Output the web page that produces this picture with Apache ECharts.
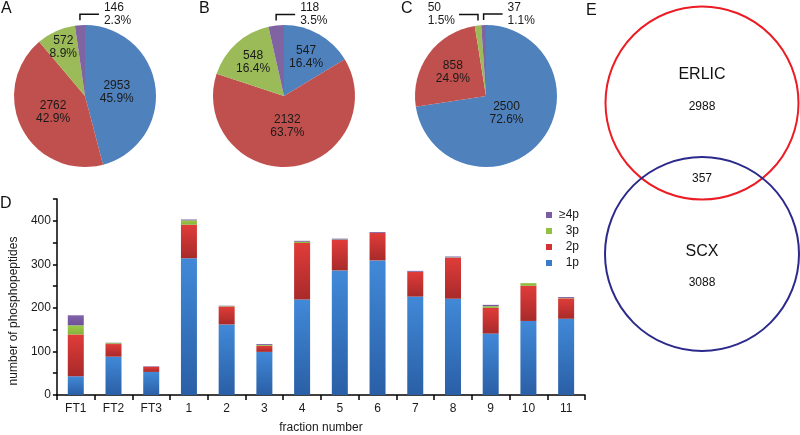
<!DOCTYPE html>
<html><head><meta charset="utf-8">
<script src="https://cdn.jsdelivr.net/npm/echarts@6/dist/echarts.min.js"></script>
<style>html,body{margin:0;padding:0;background:#fff}#c{width:800px;height:435px}</style>
</head><body><div id="c"></div>
<script>
// ---- data ----
const pieLabels = ['1p', '2p', '3p', '≥4p'];
const pieA = [2953, 2762, 572, 146];
const pieB = [547, 2132, 548, 118];
const pieC = [2500, 858, 50, 37];

const fractions = ['FT1', 'FT2', 'FT3', '1', '2', '3', '4', '5', '6', '7', '8', '9', '10', '11'];
const p1 = [43, 88, 53, 314, 162, 99, 219, 286, 309, 226, 221, 141, 170, 175];
const p2 = [96, 29, 12, 77, 41, 14, 130, 70, 63, 57, 94, 59, 81, 47];
const p3 = [21, 2, 0, 10, 1, 2, 3, 1, 0, 0, 1, 4, 6, 1];
const p4 = [23, 1, 1, 2, 1, 2, 2, 2, 2, 2, 2, 3, 0, 2];
const yTickLabels = [0, 100, 200, 300, 400];

const vennSets = ['ERLIC', 'SCX'];
const vennOnly = [2988, 3088];
const vennOverlap = 357;

// ---- styling ----
const FONT = 'Liberation Sans, Arial, sans-serif';
const TXT = '#1a1a1a';
const pieColors = ['#4F81BD', '#C0504D', '#9BBB59', '#8064A2'];
const barTop = ['#4189d8', '#e03c39', '#9cc84c', '#8162ab'];
const barBot = ['#2a5fa6', '#a82a2a', '#86b23a', '#6e5197'];
const legendCol = ['#3b7bc8', '#d23332', '#92c043', '#7a5ca6'];

function grad(t, b) {
  return new echarts.graphic.LinearGradient(0, 0, 0, 1, [{offset: 0, color: t}, {offset: 1, color: b}]);
}

function makePie(vals, center, insideR, calloutSide) {
  const total = vals.reduce((a, b) => a + b, 0);
  const R = 71;
  const mids = [];
  let cum = 0;
  vals.forEach(v => { mids.push((90 - 360 * (cum + v / 2) / total) * Math.PI / 180); cum += v; });
  return {
    type: 'pie', center: center, radius: R, startAngle: 90, clockwise: true,
    silent: true, avoidLabelOverlap: false,
    itemStyle: {borderWidth: 0},
    label: {
      show: true, position: 'inside', color: TXT, fontSize: 12, lineHeight: 13, fontFamily: FONT,
      formatter: p => p.value + '\n' + (p.value / total * 100).toFixed(1) + '%'
    },
    labelLine: {show: false},
    data: vals.map((v, i) => {
      const d = {name: pieLabels[i], value: v, itemStyle: {color: pieColors[i]}};
      if (calloutSide[i]) {
        d.label = {position: 'outside', align: 'left'};
        d.labelLine = {show: true, length: 5, length2: 15, lineStyle: {color: '#111', width: 1.5}};
      }
      return d;
    }),
    labelLayout: function (p) {
      const i = p.dataIndex, a = mids[i], lr = p.labelRect;
      if (calloutSide[i]) {
        const s = calloutSide[i];
        const x0 = center[0] + R * Math.cos(a), y0 = center[1] - R * Math.sin(a);
        const yTop = y0 - 11, xEnd = x0 + s * 19;
        return {
          x: s > 0 ? xEnd + 5 : xEnd - 4 - lr.width, y: yTop,
          align: 'left', verticalAlign: 'middle',
          labelLinePoints: [[x0, y0 - 5], [x0, yTop], [xEnd, yTop]]
        };
      }
      if (insideR[i] == null) return {};
      const tx = center[0] + insideR[i] * Math.cos(a), ty = center[1] - insideR[i] * Math.sin(a);
      return {dx: tx - (lr.x + lr.width / 2), dy: ty - (lr.y + lr.height / 2)};
    }
  };
}

function barSeries(name, vals, k) {
  return {
    type: 'bar', name: name, stack: 'p', data: vals, barWidth: 16,
    xAxisIndex: 0, yAxisIndex: 0, silent: true,
    itemStyle: {color: grad(barTop[k], barBot[k])}
  };
}

const chart = echarts.init(document.getElementById('c'), null, {renderer: 'canvas'});
const letterStyle = {fontSize: 16, fontWeight: 'normal', color: '#111', fontFamily: FONT};
const vennLabel = (fs) => ({show: true, position: 'inside', color: '#111', fontSize: fs, fontFamily: FONT});

chart.setOption({
  animation: false,
  backgroundColor: '#fff',
  title: [
    {text: 'A', left: 1, top: 1, padding: 0, textStyle: letterStyle},
    {text: 'B', left: 199, top: 1, padding: 0, textStyle: letterStyle},
    {text: 'C', left: 401, top: 1, padding: 0, textStyle: letterStyle},
    {text: 'D', left: 0, top: 196, padding: 0, textStyle: letterStyle},
    {text: 'E', left: 586, top: 3, padding: 0, textStyle: letterStyle}
  ],
  legend: {
    orient: 'vertical', left: 541, top: 203, itemWidth: 6, itemHeight: 6, itemGap: 2,
    icon: 'rect', selectedMode: false,
    formatter: n => '{t|' + n + '}',
    textStyle: {color: TXT, fontSize: 12, fontFamily: FONT, lineHeight: 14,
      rich: {t: {width: 22, align: 'right', fontSize: 12, fontFamily: FONT, color: TXT}}},
    data: [
      {name: '≥4p', itemStyle: {color: legendCol[3]}},
      {name: '3p', itemStyle: {color: legendCol[2]}},
      {name: '2p', itemStyle: {color: legendCol[1]}},
      {name: '1p', itemStyle: {color: legendCol[0]}}
    ]
  },
  grid: [
    {left: 48, top: 199, width: 537, height: 198},
    {left: 606, top: 12.4, width: 192, height: 332.2}
  ],
  xAxis: [
    {
      type: 'category', gridIndex: 0, data: fractions,
      axisLine: {lineStyle: {color: '#000', width: 1.5}},
      axisTick: {show: true, length: 5, lineStyle: {color: '#000', width: 1.5}},
      axisLabel: {color: TXT, fontSize: 12, fontFamily: FONT, margin: 8, interval: 0},
      name: 'fraction number', nameLocation: 'middle', nameGap: 27,
      nameTextStyle: {color: TXT, fontSize: 12, fontFamily: FONT}
    },
    {type: 'value', gridIndex: 1, min: -1, max: 1, show: false}
  ],
  yAxis: [
    {
      type: 'value', gridIndex: 0, min: 0, max: 450, interval: 50,
      axisLine: {show: true, lineStyle: {color: '#000', width: 1.5}},
      axisTick: {show: true, length: 4, lineStyle: {color: '#000', width: 1.5}},
      splitLine: {show: false},
      axisLabel: {color: TXT, fontSize: 12, fontFamily: FONT, margin: 6,
        formatter: v => yTickLabels.indexOf(v) >= 0 ? String(v) : ''},
      name: 'number of phosphopeptides', nameLocation: 'middle', nameGap: 36, nameRotate: 90,
      nameTextStyle: {color: TXT, fontSize: 12, fontFamily: FONT, padding: [0, 28, 0, 0]}
    },
    {type: 'value', gridIndex: 1, min: -2.2, max: 2.2, show: false}
  ],
  series: [
    makePie(pieA, [85, 96], [32, 36, 53, null], [0, 0, 0, 1]),
    makePie(pieB, [284, 96], [45, 30, 46, null], [0, 0, 0, 1]),
    makePie(pieC, [486, 96], [27, 41, null, null], [0, 0, -1, 1]),
    barSeries('1p', p1, 0),
    barSeries('2p', p2, 1),
    barSeries('3p', p3, 2),
    barSeries('≥4p', p4, 3),
    {
      type: 'scatter', xAxisIndex: 1, yAxisIndex: 1, silent: true, symbol: 'circle',
      data: [
        {name: vennSets[0], value: [0, 1], symbolSize: 193, itemStyle: {color: 'rgba(0,0,0,0)', opacity: 1, borderColor: '#ec1c24', borderWidth: 2}},
        {name: vennSets[1], value: [0, -1], symbolSize: 194, itemStyle: {color: 'rgba(0,0,0,0)', opacity: 1, borderColor: '#2b2a8c', borderWidth: 2}}
      ]
    },
    {
      type: 'scatter', xAxisIndex: 1, yAxisIndex: 1, silent: true, symbol: 'circle', symbolSize: 1,
      itemStyle: {color: 'rgba(0,0,0,0)', opacity: 1},
      data: [
        {value: [0, 1.37], label: Object.assign(vennLabel(16), {formatter: vennSets[0]})},
        {value: [0, 0.95], label: Object.assign(vennLabel(12), {formatter: String(vennOnly[0])})},
        {value: [0, 0], label: Object.assign(vennLabel(12), {formatter: String(vennOverlap)})},
        {value: [0, -0.97], label: Object.assign(vennLabel(16), {formatter: vennSets[1]})},
        {value: [0, -1.38], label: Object.assign(vennLabel(12), {formatter: String(vennOnly[1])})}
      ]
    }
  ]
});
</script>
</body></html>
